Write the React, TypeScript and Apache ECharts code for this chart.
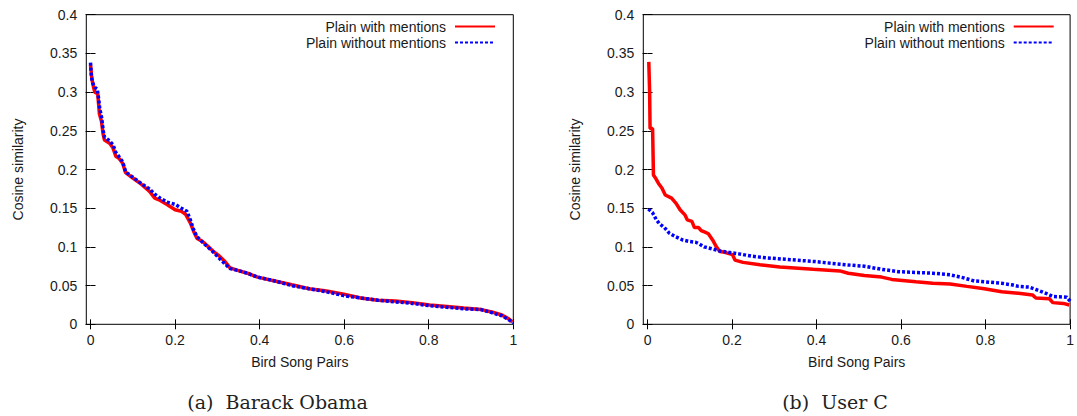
import React, { useEffect, useRef } from "react";
import * as echarts from "echarts";

const seriesNames = ["Plain with mentions", "Plain without mentions"];
const captions = ["(a)  Barack Obama", "(b)  User C"];
const xTicks = [0, 0.2, 0.4, 0.6, 0.8, 1];

const obamaWith: number[][] = [
  [0, 0.335], [0.003, 0.318], [0.006, 0.309], [0.010, 0.300], [0.017, 0.298], [0.019, 0.285],
  [0.021, 0.272], [0.026, 0.262], [0.030, 0.245], [0.033, 0.238], [0.045, 0.234], [0.053, 0.228],
  [0.060, 0.217], [0.068, 0.214], [0.076, 0.208], [0.083, 0.196], [0.100, 0.189], [0.120, 0.181],
  [0.139, 0.172], [0.152, 0.163], [0.165, 0.160], [0.180, 0.155], [0.200, 0.148], [0.215, 0.146],
  [0.225, 0.142], [0.236, 0.131], [0.244, 0.120], [0.252, 0.111], [0.265, 0.107], [0.277, 0.101],
  [0.289, 0.095], [0.305, 0.088], [0.318, 0.081], [0.330, 0.073], [0.346, 0.070], [0.371, 0.066],
  [0.395, 0.061], [0.436, 0.056], [0.476, 0.051], [0.517, 0.046], [0.558, 0.043], [0.599, 0.039],
  [0.639, 0.034], [0.680, 0.031], [0.721, 0.030], [0.761, 0.028], [0.802, 0.025], [0.843, 0.023],
  [0.883, 0.021], [0.924, 0.019], [0.949, 0.016], [0.973, 0.012], [0.989, 0.007], [0.998, 0.003],
];

const obamaWithout: number[][] = [
  [0, 0.338], [0.002, 0.320], [0.005, 0.312], [0.010, 0.306], [0.016, 0.304], [0.019, 0.292],
  [0.022, 0.278], [0.026, 0.268], [0.030, 0.250], [0.033, 0.242], [0.045, 0.237], [0.053, 0.232],
  [0.060, 0.222], [0.068, 0.216], [0.076, 0.210], [0.083, 0.197], [0.100, 0.190], [0.120, 0.182],
  [0.139, 0.175], [0.152, 0.168], [0.165, 0.163], [0.180, 0.158], [0.200, 0.155], [0.215, 0.150],
  [0.228, 0.146], [0.236, 0.135], [0.244, 0.122], [0.252, 0.113], [0.265, 0.106], [0.277, 0.100],
  [0.289, 0.094], [0.305, 0.085], [0.318, 0.078], [0.330, 0.072], [0.346, 0.070], [0.371, 0.066],
  [0.395, 0.061], [0.436, 0.056], [0.476, 0.050], [0.517, 0.046], [0.558, 0.042], [0.599, 0.037],
  [0.639, 0.034], [0.680, 0.031], [0.721, 0.029], [0.761, 0.027], [0.802, 0.024], [0.843, 0.022],
  [0.883, 0.020], [0.924, 0.019], [0.949, 0.015], [0.973, 0.011], [0.989, 0.006], [1.0, 0.002],
];

const userCWith: number[][] = [
  [0.003, 0.339], [0.005, 0.300], [0.006, 0.253], [0.012, 0.253], [0.014, 0.193], [0.020, 0.188],
  [0.026, 0.182], [0.034, 0.176], [0.042, 0.167], [0.057, 0.163], [0.068, 0.156], [0.077, 0.148],
  [0.089, 0.141], [0.094, 0.135], [0.105, 0.133], [0.111, 0.125], [0.121, 0.125], [0.127, 0.121],
  [0.136, 0.119], [0.144, 0.117], [0.154, 0.109], [0.163, 0.100], [0.171, 0.094], [0.183, 0.093],
  [0.201, 0.090], [0.207, 0.083], [0.226, 0.080], [0.266, 0.077], [0.313, 0.074], [0.392, 0.071],
  [0.455, 0.069], [0.475, 0.066], [0.513, 0.063], [0.554, 0.061], [0.578, 0.058], [0.635, 0.055],
  [0.675, 0.053], [0.716, 0.052], [0.756, 0.049], [0.797, 0.046], [0.838, 0.042], [0.878, 0.040],
  [0.911, 0.038], [0.919, 0.034], [0.951, 0.033], [0.959, 0.028], [0.984, 0.027], [0.998, 0.025],
];

const userCWithout: number[][] = [
  [0.002, 0.149], [0.012, 0.144], [0.021, 0.135], [0.028, 0.130], [0.040, 0.125], [0.051, 0.118],
  [0.067, 0.113], [0.083, 0.109], [0.099, 0.107], [0.114, 0.106], [0.122, 0.104], [0.134, 0.100],
  [0.149, 0.098], [0.169, 0.095], [0.192, 0.093], [0.216, 0.091], [0.247, 0.088], [0.279, 0.086],
  [0.326, 0.084], [0.397, 0.081], [0.468, 0.077], [0.513, 0.075], [0.554, 0.071], [0.594, 0.068],
  [0.635, 0.067], [0.675, 0.066], [0.716, 0.064], [0.748, 0.060], [0.773, 0.056], [0.797, 0.055],
  [0.838, 0.053], [0.862, 0.051], [0.878, 0.049], [0.903, 0.048], [0.919, 0.045], [0.943, 0.040],
  [0.959, 0.036], [0.992, 0.035], [1.0, 0.030],
];

const FONT = "'Liberation Sans', Arial, Helvetica, sans-serif";
const TXT = "#1a1a1a";

const grids = [
  { left: 86.3, top: 14.7, width: 427, height: 309.6 },
  { left: 643.3, top: 14.7, width: 428.7, height: 309.6 },
];

function buildOption() {
  const xAxes: any[] = [];
  const yAxes: any[] = [];
  grids.forEach((_, gi) => {
    xAxes.push({
      type: "value",
      gridIndex: gi,
      position: "bottom",
      min: -0.01,
      max: 1,
      name: "Bird Song Pairs",
      nameLocation: "middle",
      nameGap: 31,
      nameTextStyle: { fontFamily: FONT, fontSize: 14, color: TXT },
      axisLine: { show: false },
      splitLine: { show: false },
      axisTick: { show: true, inside: true, length: 5, lineStyle: { color: "#000" }, customValues: xTicks },
      axisLabel: { show: true, margin: 9, fontFamily: FONT, fontSize: 14, color: TXT, customValues: xTicks },
    });
    xAxes.push({
      type: "value",
      gridIndex: gi,
      position: "top",
      min: -0.01,
      max: 1,
      axisLine: { show: false },
      splitLine: { show: false },
      axisTick: { show: true, inside: true, length: 5, lineStyle: { color: "#000" }, customValues: xTicks },
      axisLabel: { show: false },
    });
    yAxes.push({
      type: "value",
      gridIndex: gi,
      position: "left",
      min: 0,
      max: 0.4,
      interval: 0.05,
      name: "Cosine similarity",
      nameLocation: "middle",
      nameGap: 61,
      nameTextStyle: { fontFamily: FONT, fontSize: 14, color: TXT },
      axisLine: { show: false },
      splitLine: { show: false },
      axisTick: { show: true, inside: true, length: 5, lineStyle: { color: "#000" } },
      axisLabel: { show: true, margin: 9, fontFamily: FONT, fontSize: 14, color: TXT },
    });
    yAxes.push({
      type: "value",
      gridIndex: gi,
      position: "right",
      min: 0,
      max: 0.4,
      interval: 0.05,
      axisLine: { show: false },
      splitLine: { show: false },
      axisTick: { show: true, inside: true, length: 5, lineStyle: { color: "#000" } },
      axisLabel: { show: false },
    });
  });

  const redStyle = { color: "#ff0000", width: 3.5, type: "solid" as const };
  const blueStyle = { color: "#0000ff", width: 3.5, type: [3, 2] as any, cap: "butt" as const };

  const mk = (name: string, data: number[][], gi: number, style: any, z: number) => ({
    type: "line",
    name,
    xAxisIndex: gi * 2,
    yAxisIndex: gi * 2,
    data,
    symbol: "none",
    showSymbol: false,
    color: style.color,
    lineStyle: style,
    z,
  });

  const series = [
    mk(seriesNames[0], obamaWith, 0, redStyle, 2),
    mk(seriesNames[1], obamaWithout, 0, blueStyle, 3),
    mk(seriesNames[0], userCWith, 1, redStyle, 2),
    mk(seriesNames[1], userCWithout, 1, blueStyle, 3),
  ];

  const legendBase = {
    orient: "vertical",
    align: "right",
    top: 19,
    itemWidth: 40,
    itemHeight: 14,
    itemGap: 1,
    padding: 0,
    selectedMode: false,
    data: seriesNames,
    itemStyle: { color: "rgba(0,0,0,0)", borderWidth: 0, opacity: 0 },
    textStyle: { fontFamily: FONT, fontSize: 14, color: TXT, lineHeight: 15, padding: [0, 4, 0, 0] },
  };

  return {
    animation: false,
    backgroundColor: "#ffffff",
    grid: grids.map((g) => ({ ...g, show: true, borderColor: "#000", borderWidth: 1, backgroundColor: "transparent" })),
    xAxis: xAxes,
    yAxis: yAxes,
    legend: [
      { ...legendBase, right: 581 },
      { ...legendBase, right: 22.3 },
    ],
    graphic: [
      {
        type: "text",
        x: 277.5,
        y: 402,
        style: { text: captions[0], fontFamily: "'DejaVu Serif', serif", fontSize: 19, fill: "#222", align: "center", verticalAlign: "middle" },
      },
      {
        type: "text",
        x: 835,
        y: 402,
        style: { text: captions[1], fontFamily: "'DejaVu Serif', serif", fontSize: 19, fill: "#222", align: "center", verticalAlign: "middle" },
      },
    ],
    series,
  };
}

export default function App() {
  const ref = useRef<HTMLDivElement>(null);
  useEffect(() => {
    if (!ref.current) return;
    const chart = echarts.init(ref.current, undefined, { renderer: "svg" });
    chart.setOption(buildOption() as any);
    return () => chart.dispose();
  }, []);
  return (
    <div
      ref={ref}
      style={{ position: "absolute", left: 0, top: 0, width: 1077, height: 416, background: "#fff" }}
    />
  );
}
